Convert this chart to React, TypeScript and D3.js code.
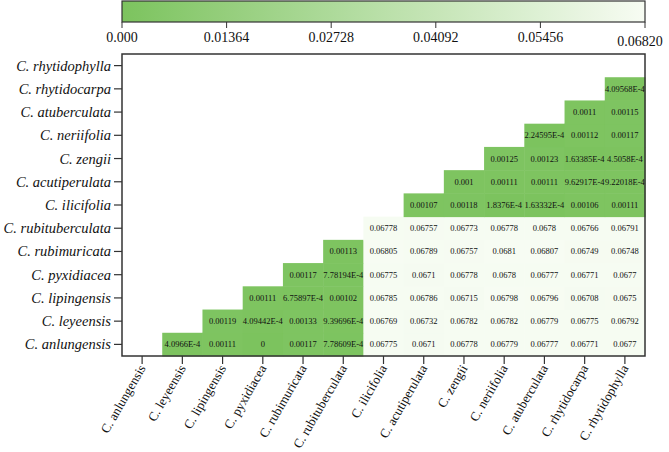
import React from 'react';
import * as d3 from 'd3';

// species, in column order (left to right); rows run the other way (bottom to top)
const species = [
  'C. anlungensis', 'C. leyeensis', 'C. lipingensis', 'C. pyxidiacea',
  'C. rubimuricata', 'C. rubituberculata', 'C. ilicifolia', 'C. acutiperulata',
  'C. zengii', 'C. neriifolia', 'C. atuberculata', 'C. rhytidocarpa', 'C. rhytidophylla',
];

// each row starts at the column right after its own species
const anlungensis = [4.0966e-4, 0.00111, 0, 0.00117, 7.78609e-4, 0.06775, 0.0671, 0.06778, 0.06779, 0.06777, 0.06771, 0.0677];
const leyeensis = [0.00119, 4.09442e-4, 0.00133, 9.39696e-4, 0.06769, 0.06732, 0.06782, 0.06782, 0.06779, 0.06775, 0.06792];
const lipingensis = [0.00111, 6.75897e-4, 0.00102, 0.06785, 0.06786, 0.06715, 0.06798, 0.06796, 0.06708, 0.0675];
const pyxidiacea = [0.00117, 7.78194e-4, 0.06775, 0.0671, 0.06778, 0.0678, 0.06777, 0.06771, 0.0677];
const rubimuricata = [0.00113, 0.06805, 0.06789, 0.06757, 0.0681, 0.06807, 0.06749, 0.06748];
const rubituberculata = [0.06778, 0.06757, 0.06773, 0.06778, 0.0678, 0.06766, 0.06791];
const ilicifolia = [0.00107, 0.00118, 1.8376e-4, 1.63332e-4, 0.00106, 0.00111];
const acutiperulata = [0.001, 0.00111, 0.00111, 9.62917e-4, 9.22018e-4];
const zengii = [0.00125, 0.00123, 1.63385e-4, 4.5058e-4];
const neriifolia = [2.24595e-4, 0.00112, 0.00117];
const atuberculata = [0.0011, 0.00115];
const rhytidocarpa = [4.09568e-4];
const rhytidophylla: number[] = [];

const rows = [anlungensis, leyeensis, lipingensis, pyxidiacea, rubimuricata, rubituberculata,
  ilicifolia, acutiperulata, zengii, neriifolia, atuberculata, rhytidocarpa, rhytidophylla];

const colorTicks = [0, 0.01364, 0.02728, 0.04092, 0.05456, 0.0682];
const colorTickLabels = ['0.000', '0.01364', '0.02728', '0.04092', '0.05456', '0.06820'];

const W = 669, H = 452;
const left = 122, right = 645, top = 54, bottom = 356;
const font = '"Liberation Serif", "Times New Roman", serif';

const fmt = (v: number) => (v !== 0 && v < 0.001 ? v.toExponential().toUpperCase() : String(v));

export default function App() {
  const x = d3.scaleBand<string>().domain(species).range([left, right]);
  const y = d3.scaleBand<string>().domain(species.slice().reverse()).range([top, bottom]);
  const color = d3.scaleLinear<string>().domain([0, 0.0682]).range(['#7cc35e', '#f7fcf3']);
  const cbx = d3.scaleLinear().domain([0, 0.0682]).range([left, right]);

  const cells = rows.flatMap((vals, i) =>
    vals.map((v, k) => ({ row: species[i], col: species[i + 1 + k], v })));

  return (
    <svg width={W} height={H} style={{ position: 'absolute', left: 0, top: 0, fontFamily: font }}>
      <defs>
        <linearGradient id="cb" x1="0" x2="1" y1="0" y2="0">
          {d3.range(0, 1.0001, 0.1).map(t => (
            <stop key={t} offset={t} stopColor={color(t * 0.0682)} />
          ))}
        </linearGradient>
      </defs>

      {/* colour bar */}
      <rect x={left} y={1} width={right - left} height={21} fill="url(#cb)" stroke="#333" strokeWidth={1.2} />
      {colorTicks.map((t, i) => (
        <g key={t}>
          <line x1={cbx(t)} x2={cbx(t)} y1={22} y2={28} stroke="#333" />
          <text x={i === colorTicks.length - 1 ? cbx(t) - 5 : cbx(t)} y={i === colorTicks.length - 1 ? 46 : 42}
            textAnchor="middle" fontSize={14} fill="#111">{colorTickLabels[i]}</text>
        </g>
      ))}

      {/* cells */}
      {cells.map(c => (
        <g key={c.row + c.col}>
          <rect x={x(c.col)} y={y(c.row)} width={x.bandwidth() + 0.5} height={y.bandwidth() + 0.5} fill={color(c.v)} />
          <text x={x(c.col)! + x.bandwidth() / 2} y={y(c.row)! + y.bandwidth() / 2 + 3}
            textAnchor="middle" fontSize={8.5} fill="#111">{fmt(c.v)}</text>
        </g>
      ))}

      {/* frame */}
      <rect x={left} y={top} width={right - left} height={bottom - top} fill="none" stroke="#333" strokeWidth={1.5} />

      {/* y axis */}
      {species.map(s => (
        <g key={s} transform={`translate(${left},${y(s)! + y.bandwidth() / 2})`}>
          <line x1={-8} x2={0} stroke="#333" strokeWidth={1.2} />
          <text x={-11} y={5} textAnchor="end" fontSize={14.5} fontStyle="italic" fill="#111">{s}</text>
        </g>
      ))}

      {/* x axis */}
      {species.map(s => (
        <g key={s} transform={`translate(${x(s)! + x.bandwidth() / 2},${bottom})`}>
          <line y1={0} y2={8} stroke="#333" strokeWidth={1.2} />
          <text transform="translate(4,12) rotate(-60)" textAnchor="end" fontSize={13} fill="#111">{s}</text>
        </g>
      ))}
    </svg>
  );
}
